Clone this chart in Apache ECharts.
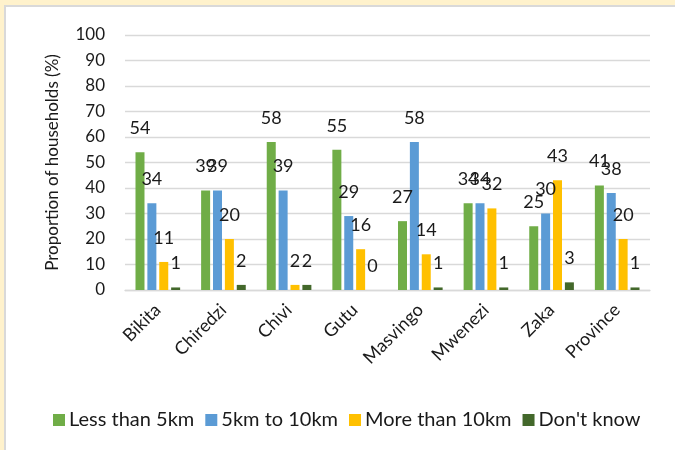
<!DOCTYPE html>
<html>
<head>
<meta charset="utf-8">
<script src="https://cdn.jsdelivr.net/npm/echarts@6/dist/echarts.min.js"></script>
<style>
  html, body { margin: 0; padding: 0; background: #FFF2CC; }
  body { width: 675px; height: 450px; position: relative; overflow: hidden; }
  #panel { position: absolute; left: 4px; top: 5px; width: 700px; height: 480px;
           background: #ffffff; border-left: 2px solid #D9D9D9; border-top: 2px solid #D9D9D9; }
  #chart { position: absolute; left: 0; top: 0; width: 675px; height: 450px; }
</style>
</head>
<body>
<div id="panel"></div>
<div id="chart"></div>
<script>
// Distance to the nearest water source, by district
const districts = ['Bikita', 'Chiredzi', 'Chivi', 'Gutu', 'Masvingo', 'Mwenezi', 'Zaka', 'Province'];
const lessThan5km = [54, 39, 58, 55, 27, 34, 25, 41];
const from5to10km = [34, 39, 39, 29, 58, 34, 30, 38];
const moreThan10km = [11, 20, 2, 16, 14, 32, 43, 20];
const dontKnow = [1, 2, 2, 0, 1, 1, 3, 1];

const seriesNames = ['Less than 5km', '5km to 10km', 'More than 10km', "Don't know"];
const seriesColors = ['#70AD47', '#5B9BD5', '#FFC000', '#43682B'];
const seriesValues = [lessThan5km, from5to10km, moreThan10km, dontKnow];

const FONT = 'Lato, "Open Sans", sans-serif';
const TEXT = '#1a1a1a';

const chart = echarts.init(document.getElementById('chart'), null, { renderer: 'canvas' });

chart.setOption({
  animation: false,
  textStyle: { fontFamily: FONT },
  grid: { left: 125, right: 25, top: 35, bottom: 160 },
  legend: {
    data: seriesNames,
    left: 53,
    top: 410,
    padding: 0,
    itemWidth: 12,
    itemHeight: 12,
    itemGap: 11,
    icon: 'rect',
    textStyle: { fontFamily: FONT, fontSize: 20, color: TEXT, padding: [0, 0, 0, -1] }
  },
  xAxis: {
    type: 'category',
    data: districts,
    axisLine: { lineStyle: { color: '#D9D9D9', width: 1.3 } },
    axisTick: { show: false },
    axisLabel: { rotate: 45, margin: 17, fontSize: 18, color: TEXT, fontFamily: FONT, interval: 0 }
  },
  yAxis: {
    type: 'value',
    min: 0,
    max: 100,
    interval: 10,
    name: 'Proportion of households (%)',
    nameLocation: 'middle',
    nameGap: 64,
    nameTextStyle: { fontSize: 17, color: TEXT, fontFamily: FONT },
    axisLine: { show: false },
    axisTick: { show: false },
    axisLabel: { margin: 20, fontSize: 17, color: TEXT, fontFamily: FONT },
    splitLine: { lineStyle: { color: '#D9D9D9', width: 1.3 } }
  },
  series: seriesNames.map((name, i) => ({
    name: name,
    type: 'bar',
    data: seriesValues[i],
    barWidth: 9,
    barGap: '32%',
    itemStyle: { color: seriesColors[i] },
    label: {
      show: true,
      position: 'top',
      distance: 15,
      fontSize: 18,
      color: TEXT,
      fontFamily: FONT
    }
  }))
});
</script>
</body>
</html>
